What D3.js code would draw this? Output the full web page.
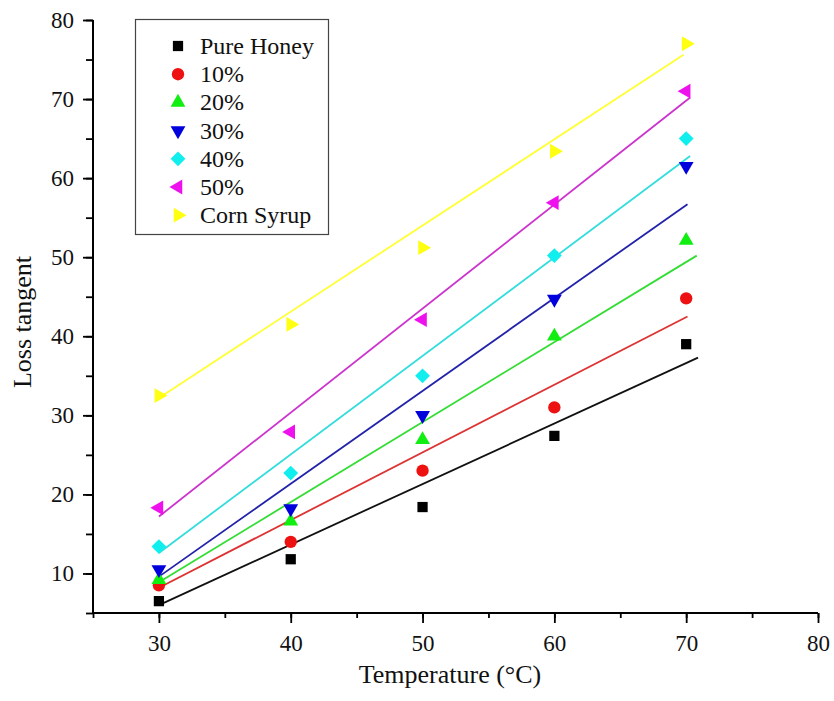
<!DOCTYPE html>
<html>
<head>
<meta charset="utf-8">
<script src="https://cdn.jsdelivr.net/npm/d3@7"></script>
<style>
  body { margin: 0; background: #fff; }
  svg { display: block; font-family: "Liberation Serif", "DejaVu Serif", serif; }
</style>
</head>
<body>
<div id="chart"></div>
<script>
// temperatures (°C)
const temps = [30, 40, 50, 60, 70];

// series names as in the legend
const seriesNames = ['Pure Honey', '10%', '20%', '30%', '40%', '50%', 'Corn Syrup'];

// measured loss tangent per series
const pureHoney = [6.5, 11.8, 18.4, 27.4, 39.0];
const pct10 = [8.5, 14.0, 23.0, 31.0, 44.8];
const pct20 = [9.2, 16.6, 26.9, 40.0, 52.1];
const pct30 = [10.5, 18.2, 30.0, 44.7, 61.5];
const pct40 = [13.4, 22.7, 35.0, 50.2, 65.0];
const pct50 = [18.3, 27.9, 42.1, 56.9, 71.0];
const cornSyrup = [32.5, 41.5, 51.2, 63.4, 77.0];

// fitted lines: value at x = 30 and at the line end
const fitStart = [6.0, 8.2, 8.9, 9.6, 12.6, 17.2, 32.2];
const fitEnd = [37.3, 42.5, 50.2, 56.7, 62.8, 70.2, 75.6];
const fitEndX = [70.9, 70.1, 70.8, 70.1, 70.3, 70.3, 69.8];

// axis ticks
const xTicks = [30, 40, 50, 60, 70, 80];
const yTicks = [10, 20, 30, 40, 50, 60, 70, 80];

const seriesValues = [pureHoney, pct10, pct20, pct30, pct40, pct50, cornSyrup];
const markerColors = ['#000000', '#ee1111', '#11ee11', '#0000dd', '#11eeee', '#ee11ee', '#ffff11'];
const lineColors = ['#111111', '#dd3333', '#33dd33', '#2222aa', '#33dddd', '#cc33cc', '#ffff33'];
// shape, rotation, size
const markerShapes = [
  [d3.symbolSquare, 0, 105],
  [d3.symbolCircle, 0, 120],
  [d3.symbolTriangle, 0, 95],
  [d3.symbolTriangle, 180, 95],
  [d3.symbolSquare, 45, 110],
  [d3.symbolTriangle, -90, 95],
  [d3.symbolTriangle, 90, 95]
];

const width = 834, height = 701;
const margin = { top: 20, right: 16, bottom: 88, left: 93 };

const svg = d3.select('#chart')
  .append('svg')
  .attr('width', width)
  .attr('height', height);

const x = d3.scaleLinear().domain([25, 80]).range([margin.left, width - margin.right]);
const y = d3.scaleLinear().domain([5, 80]).range([height - margin.bottom, margin.top]);

// fit lines
seriesNames.forEach((name, i) => {
  svg.append('line')
    .attr('x1', x(30))
    .attr('y1', y(fitStart[i]))
    .attr('x2', x(fitEndX[i]))
    .attr('y2', y(fitEnd[i]))
    .attr('stroke', lineColors[i])
    .attr('stroke-width', 1.8);
});

function symbolPath(i) {
  const [type, , size] = markerShapes[i];
  return d3.symbol().type(type).size(size)();
}

// markers
seriesNames.forEach((name, i) => {
  svg.append('g')
    .selectAll('path')
    .data(temps.map((t, j) => ({ t, v: seriesValues[i][j] })))
    .enter()
    .append('path')
    .attr('d', symbolPath(i))
    .attr('transform', d => `translate(${x(d.t)},${y(d.v)}) rotate(${markerShapes[i][1]})`)
    .attr('fill', markerColors[i]);
});

// x axis (major + minor ticks)
const xAxisG = svg.append('g')
  .attr('transform', `translate(0,${y(5)})`);
xAxisG.call(d3.axisBottom(x).tickValues(d3.range(25, 81, 5)).tickSize(5).tickFormat(''))
  .call(g => g.select('.domain').remove());
xAxisG.call(g => g.append('g')
  .call(d3.axisBottom(x).tickValues(xTicks).tickSize(10).tickPadding(12).tickFormat(d3.format('d')))
  .call(s => s.select('.domain').remove()));
xAxisG.append('line')
  .attr('x1', x(25)).attr('x2', x(80))
  .attr('stroke', '#000').attr('stroke-width', 2);

// y axis
const yAxisG = svg.append('g')
  .attr('transform', `translate(${x(25)},0)`);
yAxisG.call(d3.axisLeft(y).tickValues(d3.range(5, 81, 5)).tickSize(7).tickFormat(''))
  .call(g => g.select('.domain').remove());
yAxisG.call(g => g.append('g')
  .call(d3.axisLeft(y).tickValues(yTicks).tickSize(10).tickPadding(9).tickFormat(d3.format('d')))
  .call(s => s.select('.domain').remove()));
yAxisG.append('line')
  .attr('y1', y(5)).attr('y2', y(80))
  .attr('stroke', '#000').attr('stroke-width', 2);

svg.selectAll('.tick line').attr('stroke', '#000').attr('stroke-width', 1.8);
svg.selectAll('.tick text')
  .attr('fill', '#111')
  .style('font-size', '23px')
  .style('font-family', '"Liberation Serif", serif');

// axis titles
svg.append('text')
  .attr('x', 450)
  .attr('y', 683)
  .attr('text-anchor', 'middle')
  .style('font-size', '26px')
  .attr('fill', '#111')
  .text('Temperature (°C)');

svg.append('text')
  .attr('transform', `translate(31,${322}) rotate(-90)`)
  .attr('text-anchor', 'middle')
  .style('font-size', '26px')
  .attr('fill', '#111')
  .text('Loss tangent');

// legend
const legend = svg.append('g');
legend.append('rect')
  .attr('x', 135.5)
  .attr('y', 19.5)
  .attr('width', 193)
  .attr('height', 215)
  .attr('fill', '#fff')
  .attr('stroke', '#444')
  .attr('stroke-width', 1.2);

const legendItems = legend.selectAll('.legend-item')
  .data(seriesNames)
  .enter()
  .append('g')
  .attr('class', 'legend-item')
  .attr('transform', (d, i) => `translate(178,${46 + i * 28.2})`);

legendItems.append('path')
  .attr('d', (d, i) => symbolPath(i))
  .attr('transform', (d, i) => `rotate(${markerShapes[i][1]})`)
  .attr('fill', (d, i) => markerColors[i]);

legendItems.append('text')
  .attr('x', 22)
  .attr('y', 8)
  .style('font-size', '24px')
  .attr('fill', '#111')
  .text(d => d);
</script>
</body>
</html>
